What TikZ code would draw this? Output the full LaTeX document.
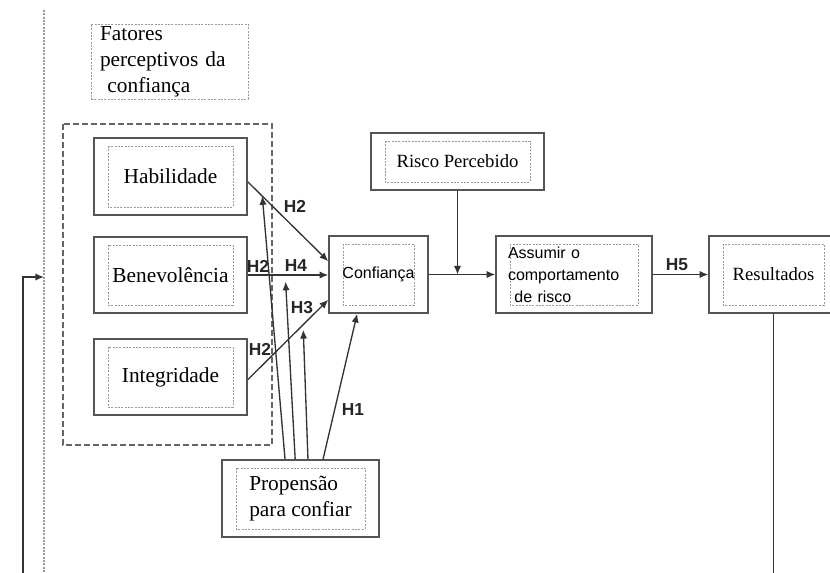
\documentclass[tikz,border=0pt]{standalone}
\usepackage{fontspec}
\setmainfont{Liberation Serif}
\newfontfamily\sansfam{Liberation Sans}
\usetikzlibrary{arrows.meta, positioning}

\definecolor{boxgray}{HTML}{555555}
\definecolor{linegray}{HTML}{333333}
\definecolor{dotgray}{HTML}{9A9A9A}
\definecolor{dashgray}{HTML}{666666}

\begin{document}
\begin{tikzpicture}[
        x=0.75pt, y=-0.75pt,
        innerline/.style={draw=dotgray, line width=0.6pt, dash pattern=on 1.5pt off 1pt},
        factor/.style={draw=boxgray, line width=1.2pt, fill=white, inner sep=3pt,
            font=\fontsize{16}{20}\selectfont,
            path picture={\draw[innerline]
                ([xshift=10.5pt, yshift=-6pt]path picture bounding box.north west) rectangle
                ([xshift=-10.5pt, yshift=6pt]path picture bounding box.south east);}},
        conn/.style={draw=linegray, line width=1pt, -{Latex[length=6.5pt, width=5.5pt]}},
        hyp/.style={font=\sansfam\bfseries\fontsize{13}{15}\selectfont, text=black!85, inner sep=0pt},
        smalltext/.style={font=\fontsize{14}{17}\selectfont},
        sanstext/.style={font=\sansfam\fontsize{12}{16.5}\selectfont},
        groupline/.style={draw=dashgray, line width=1.1pt, dash pattern=on 4.5pt off 2.25pt},
        dotline/.style={draw=dotgray, line width=1pt, dash pattern=on 1.5pt off 1pt}
    ]
        % Frame
        \fill[white] (0,0) rectangle (830,573);
        \useasboundingbox (0,0) rectangle (830,573);
        \clip (0,0) rectangle (830,573);
        \draw[dotline] (44,10) -- (44,580);

        % Title box
        \node[innerline, line width=0.7pt, align=left, text width=104.25pt, inner xsep=6.75pt,
            inner ysep=0pt, minimum height=56.25pt, font=\fontsize{16}{19.5}\selectfont]
            (fat) at (169.5,61.5) {Fatores\\perceptivos da\\\hspace*{0.35em}confiança};

        % Perceptive factors
        \draw[groupline] (63,124) rectangle (272,445);
        \node[factor, minimum width=114.75pt, minimum height=57.75pt] (hab) at (170.5,176.5) {Habilidade};
        \node[factor, minimum width=114.75pt, minimum height=57pt] (ben) at (170.5,275) {Benevolência};
        \node[factor, minimum width=114.75pt, minimum height=57pt] (integ) at (170.5,377) {Integridade};

        % Main chain
        \node[factor, sanstext, minimum width=74.25pt, minimum height=57.75pt] (conf) at (378.5,274.5) {Confiança};
        \node[factor, smalltext, minimum width=129.75pt, minimum height=42.75pt] (risco) at (457.5,161.5) {Risco Percebido};
        \node[factor, sanstext, minimum height=57.75pt, text width=99pt, inner xsep=9pt, align=left]
            (assum) at (574,274.5) {Assumir o\\comportamento\\\hspace*{0.4em}de risco};
        \node[factor, smalltext, minimum width=96.75pt, minimum height=57.75pt] (result) at (773.5,274.5) {Resultados};

        % Propensity
        \node[factor, align=left, minimum width=117.75pt, minimum height=57.75pt] (prop) at (300.5,498.5) {Propensão\\para confiar};

        % Factors to trust
        \draw[conn] ([yshift=-4pt]hab.east) -- coordinate[pos=0.18] (mhab) ([yshift=10pt]conf.west);
        \draw[conn] (ben.east) -- coordinate[pos=0.47] (mben) (ben.east -| conf.west);
        \draw[conn] ([yshift=-2pt]integ.east) -- coordinate[pos=0.69] (minteg) ([yshift=-19pt]conf.west);

        % Propensity moderations
        \draw[conn] ([xshift=-11.6pt]prop.north) -- (mhab);
        \draw[conn] ([xshift=-4pt]prop.north) -- ([yshift=-5pt]mben);
        \draw[conn] ([xshift=5.6pt]prop.north) -- ([yshift=-4pt]minteg);
        \draw[conn] ([xshift=16.9pt]prop.north) -- ([xshift=-16pt]conf.south);

        % Trust to outcomes
        \draw[conn] (conf.east) -- (assum.west);
        \draw[conn] (risco.south) -- (risco.south |- conf.east);
        \draw[conn] (assum.east) -- (result.west);

        % Feedback
        \coordinate (fb) at (44,277);
        \draw[conn] (result.south) -- ++(0,320) -| (23,277) -- (fb);

        % Hypotheses
        \node[hyp] (h2a) at (295,206) {H2};
        \node[hyp] (h2b) at (258,266) {H2};
        \node[hyp] (h4) at (296,266) {H4};
        \node[hyp] (h3) at (302,308) {H3};
        \node[hyp] (h2c) at (260,349) {H2};
        \node[hyp] (h1) at (353,410) {H1};
        \node[hyp] (h5) at (677,265) {H5};
    \end{tikzpicture}
\end{document}
